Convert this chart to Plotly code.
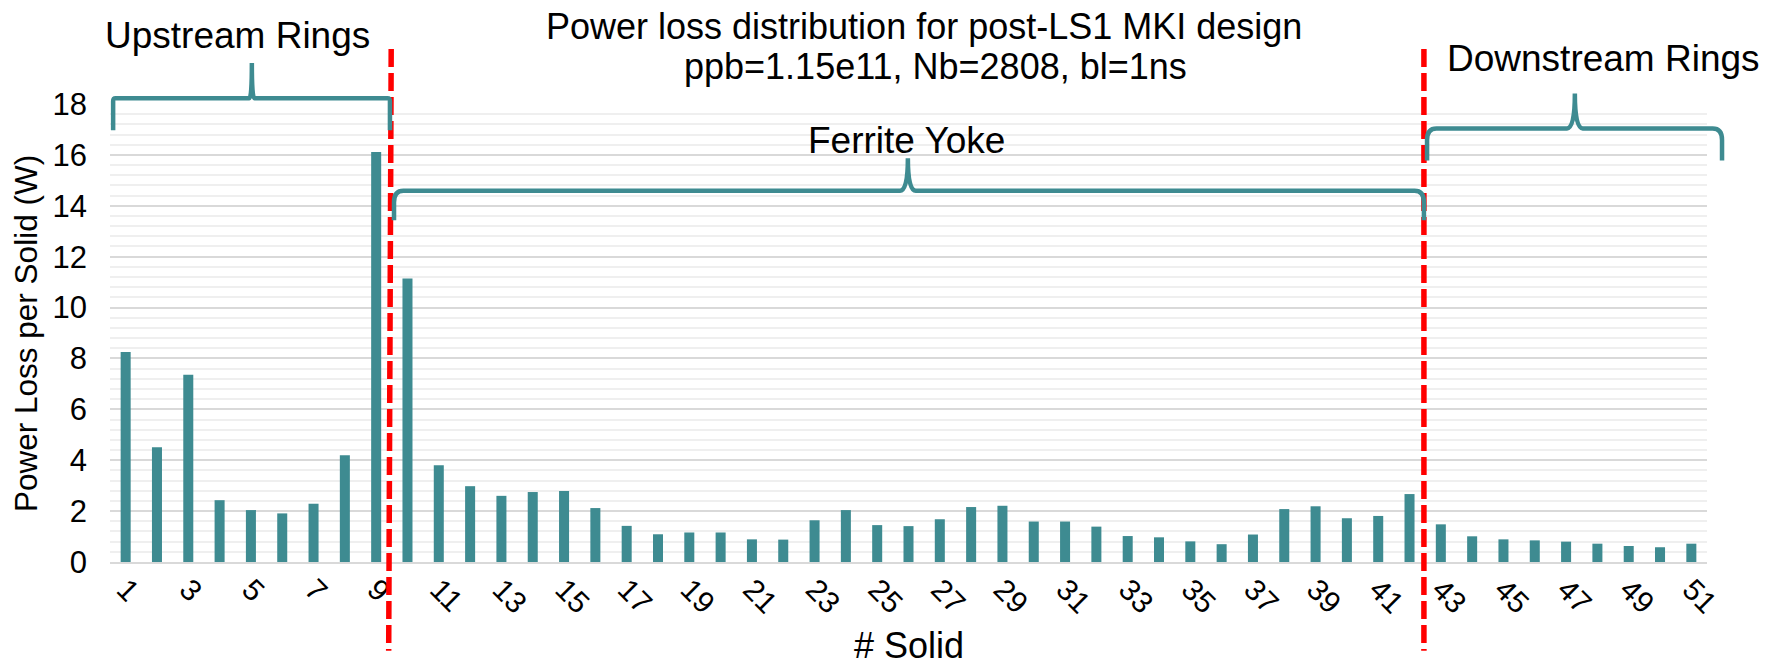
import plotly.graph_objects as go

# ---- data -------------------------------------------------------------
solid_ids = list(range(1, 52))
power_loss_w = [
    8.25, 4.51, 7.36, 2.43, 2.04, 1.91, 2.29, 4.20, 16.11, 11.14,
    3.80, 2.98, 2.60, 2.75, 2.79, 2.12, 1.42, 1.09, 1.16, 1.16,
    0.89, 0.88, 1.64, 2.04, 1.45, 1.41, 1.68, 2.16, 2.21, 1.59,
    1.59, 1.39, 1.02, 0.97, 0.81, 0.70, 1.08, 2.08, 2.19, 1.72,
    1.81, 2.67, 1.48, 1.01, 0.89, 0.85, 0.80, 0.72, 0.63, 0.58, 0.72,
]
tick_values = list(range(1, 52, 2))
tick_labels = [str(v) for v in tick_values]

# boundaries between the ring and yoke regions (top x, bottom x)
section_bounds = [(9.48, 9.40), (42.46, 42.46)]

# region braces: label, start, end, tip, bar level, end level, tip level, label x, label y, curly
section_names = ["Upstream Rings", "Ferrite Yoke", "Downstream Rings"]
brace_start = [0.60, 9.57, 42.56]
brace_end = [9.44, 42.46, 51.98]
brace_tip = [5.03, 25.98, 47.28]
brace_level = [18.23, 14.59, 17.04]
brace_end_level = [16.97, 13.43, 15.78]
brace_tip_level = [19.61, 15.87, 18.41]
label_x = [4.56, 25.95, 48.18]
label_y = [20.70, 16.58, 19.80]
brace_curly = [False, True, True]

TEAL = "#3E8B91"
FONT = "Liberation Sans, Arial, sans-serif"
X_MIN, X_MAX = 0.5, 51.5
Y_MAX = 18


def px(c):
    return (c - X_MIN) / (X_MAX - X_MIN)


def py(v):
    return v / Y_MAX


def brace_path(x0, x1, xt, yb, ye, yt, curly):
    rx, ry, tw = (0.30, 0.45, 0.25) if curly else (0.08, 0.12, 0.08)
    pts = [
        f"M {px(x0)} {py(ye)}",
        f"L {px(x0)} {py(yb - ry)}",
        f"Q {px(x0)} {py(yb)} {px(x0 + rx)} {py(yb)}",
        f"L {px(xt - tw)} {py(yb)}",
        f"Q {px(xt)} {py(yb)} {px(xt)} {py(yt)}",
        f"Q {px(xt)} {py(yb)} {px(xt + tw)} {py(yb)}",
        f"L {px(x1 - rx)} {py(yb)}",
        f"Q {px(x1)} {py(yb)} {px(x1)} {py(yb - ry)}",
        f"L {px(x1)} {py(ye)}",
    ]
    return " ".join(pts)


fig = go.Figure(
    go.Bar(
        x=solid_ids,
        y=power_loss_w,
        marker=dict(color=TEAL, line=dict(width=0)),
        hoverinfo="x+y",
    )
)

shapes = []
for top_x, bottom_x in section_bounds:
    shapes.append(dict(
        type="line", xref="x", yref="paper",
        x0=top_x, x1=bottom_x, y0=1.12, y1=-0.194,
        line=dict(color="#FF0000", width=5.5, dash="18px,6px"),
    ))

annotations = []
for i, name in enumerate(section_names):
    shapes.append(dict(
        type="path", xref="paper", yref="paper",
        path=brace_path(brace_start[i], brace_end[i], brace_tip[i],
                        brace_level[i], brace_end_level[i], brace_tip_level[i],
                        brace_curly[i]),
        line=dict(color=TEAL, width=4.5),
    ))
    annotations.append(dict(
        text=name, xref="x", yref="paper", x=label_x[i], y=py(label_y[i]),
        xanchor="center", yanchor="middle", showarrow=False,
        font=dict(family=FONT, size=37, color="#000000"),
    ))

title_lines = ["Power loss distribution for post-LS1 MKI design",
               "ppb=1.15e11, Nb=2808, bl=1ns"]
for line, xx, yy in zip(title_lines, [0.5095, 0.5166], [1.170, 1.082]):
    annotations.append(dict(
        text=line, xref="paper", yref="paper", x=xx, y=yy,
        xanchor="center", yanchor="middle", showarrow=False,
        font=dict(family=FONT, size=36, color="#000000"),
    ))

annotations.append(dict(
    text="# Solid", xref="paper", yref="paper", x=0.5, y=-0.183,
    xanchor="center", yanchor="middle", showarrow=False,
    font=dict(family=FONT, size=36, color="#000000"),
))
annotations.append(dict(
    text="Power Loss per Solid (W)", xref="paper", yref="paper", x=-0.0526, y=0.5,
    xanchor="center", yanchor="middle", textangle=-90, showarrow=False,
    font=dict(family=FONT, size=31.5, color="#000000"),
))

fig.update_layout(
    width=1775,
    height=668,
    autosize=False,
    margin=dict(l=110, r=68, t=104, b=106),
    paper_bgcolor="white",
    plot_bgcolor="white",
    bargap=0.68,
    showlegend=False,
    shapes=shapes,
    annotations=annotations,
    font=dict(family=FONT, color="#000000"),
    xaxis=dict(
        range=[X_MIN, X_MAX],
        tickmode="array",
        tickvals=tick_values,
        ticktext=tick_labels,
        tickangle=45,
        tickfont=dict(family=FONT, size=30, color="#000000"),
        ticklabelstandoff=-4,
        showgrid=False,
        zeroline=False,
        showline=True,
        linecolor="#D9D9D9",
        linewidth=2,
        ticks="",
    ),
    yaxis=dict(
        range=[0, Y_MAX],
        tick0=0,
        dtick=2,
        tickfont=dict(family=FONT, size=31, color="#000000"),
        ticklabelstandoff=22,
        showgrid=True,
        gridcolor="#D9D9D9",
        gridwidth=1.5,
        zeroline=False,
        showline=False,
        ticks="",
        minor=dict(dtick=0.4, showgrid=True, gridcolor="#EFEFEF", gridwidth=1.5),
    ),
)

fig.write_html("out.html")
